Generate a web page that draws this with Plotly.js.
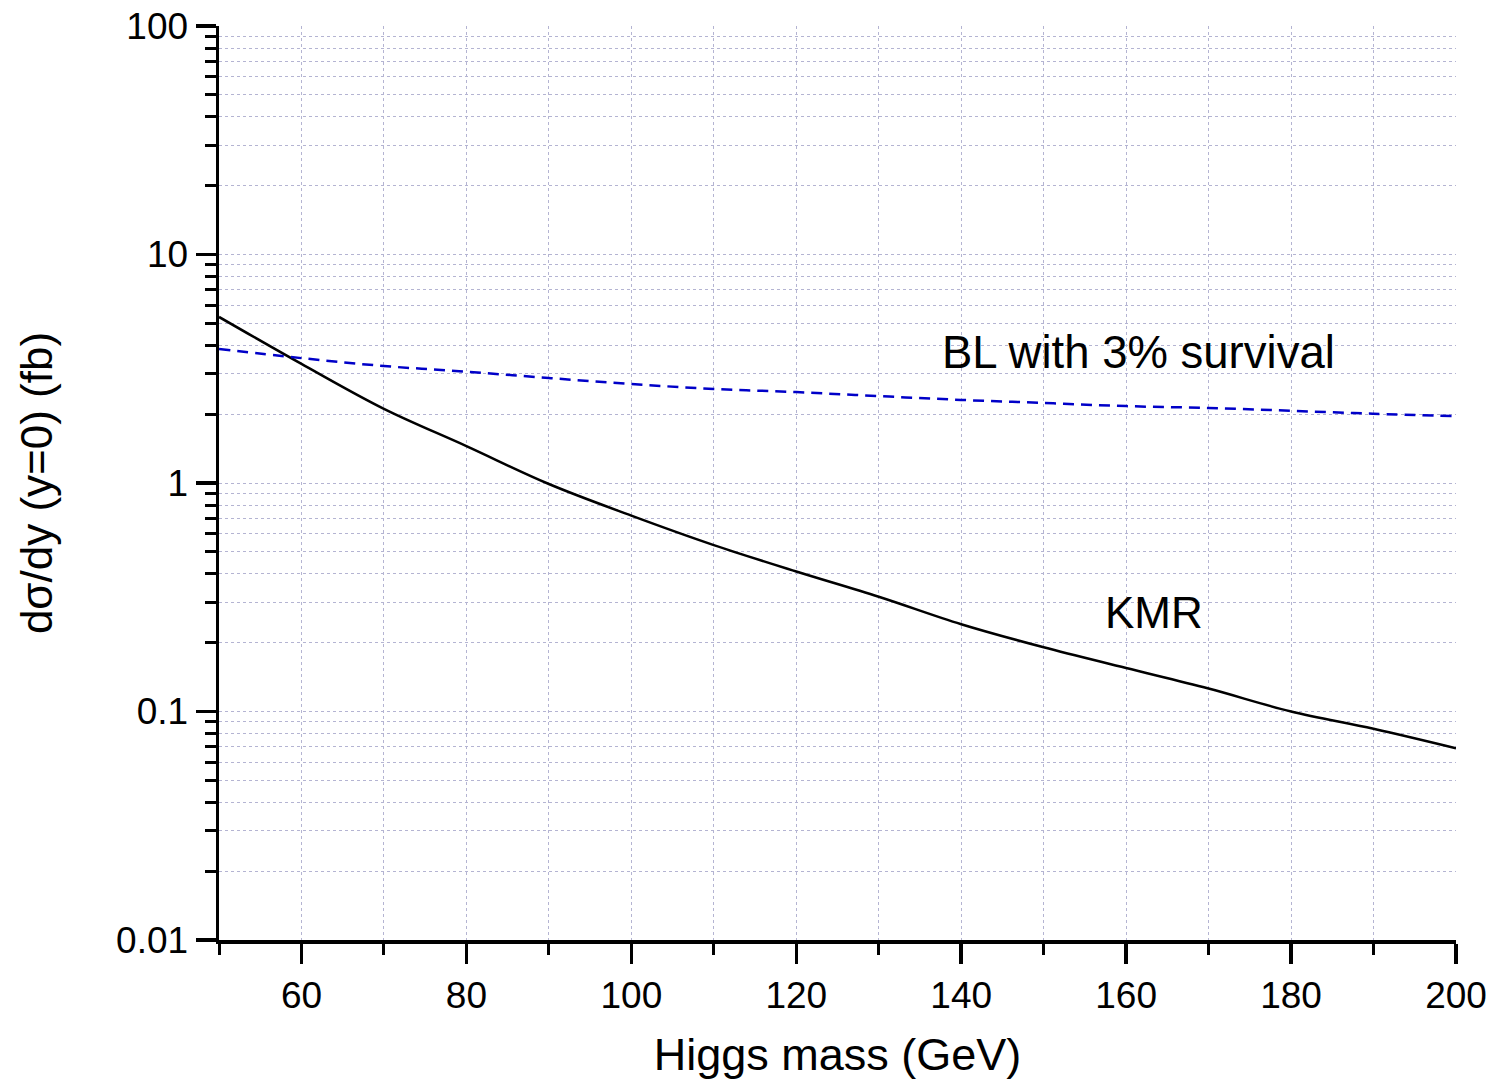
<!DOCTYPE html>
<html>
<head>
<meta charset="utf-8">
<script src="https://cdn.plot.ly/plotly-3.0.1.min.js"></script>
<style>html,body{margin:0;padding:0;background:#fff;}#chart{width:1492px;height:1086px;}</style>
</head>
<body>
<div id="chart"></div>
<script>
// Higgs mass (GeV)
const higgsMass = [50, 60, 70, 80, 90, 100, 110, 120, 130, 140, 150, 160, 170, 180, 190, 200];
// KMR dσ/dy (fb)
const kmr = [5.33, 3.32, 2.11, 1.45, 0.99, 0.72, 0.535, 0.41, 0.318, 0.241, 0.191, 0.155, 0.126, 0.100, 0.084, 0.069];
// BL with 3% survival dσ/dy (fb)
const bl = [3.86, 3.52, 3.25, 3.07, 2.88, 2.71, 2.58, 2.50, 2.40, 2.31, 2.24, 2.17, 2.13, 2.07, 2.01, 1.96];

const xMajorTicks = [60, 80, 100, 120, 140, 160, 180, 200];
const xMinorTicks = [50, 60, 70, 80, 90, 100, 110, 120, 130, 140, 150, 160, 170, 180, 190];
const yMajorTicks = [0.01, 0.1, 1, 10, 100];
const yMajorLabels = ["0.01", "0.1", "1", "10", "100"];
const yMinorTicks = [0.02,0.03,0.04,0.05,0.06,0.07,0.08,0.09,0.1,
                     0.2,0.3,0.4,0.5,0.6,0.7,0.8,0.9,1,
                     2,3,4,5,6,7,8,9,10,
                     20,30,40,50,60,70,80,90];

const FONT = "Liberation Sans, Arial, sans-serif";
const GRID = "#b4b4d2";

const traces = [
  {x: higgsMass, y: kmr, mode: "lines", name: "KMR", line: {color: "#000000", width: 2.5, shape: "spline", smoothing: 1}},
  {x: higgsMass, y: bl, mode: "lines", name: "BL with 3% survival", line: {color: "#0000c8", width: 2.5, dash: "11px,7px", shape: "spline", smoothing: 1}}
];

const layout = {
  width: 1492, height: 1086,
  margin: {l: 219, r: 36, t: 26, b: 146},
  paper_bgcolor: "#ffffff", plot_bgcolor: "#ffffff",
  showlegend: false,
  font: {family: FONT, color: "#000"},
  xaxis: {
    range: [50, 200],
    tickvals: xMajorTicks,
    ticks: "outside", ticklen: 20, tickwidth: 3.5, tickcolor: "#000",
    tickfont: {size: 37, family: FONT},
    showline: true, linewidth: 3.5, linecolor: "#000",
    showgrid: false, zeroline: false,
    minor: {tickvals: xMinorTicks, ticks: "outside", ticklen: 11, tickwidth: 3, tickcolor: "#000",
            showgrid: true, gridcolor: GRID, griddash: "dot", gridwidth: 1},
    title: {text: "Higgs mass (GeV)", font: {size: 45, family: FONT}, standoff: 24}
  },
  yaxis: {
    type: "log",
    range: [-2, 2],
    tickvals: yMajorTicks, ticktext: yMajorLabels,
    ticks: "outside", ticklen: 20, tickwidth: 3.5, tickcolor: "#000",
    tickfont: {size: 37, family: FONT},
    showline: true, linewidth: 3.5, linecolor: "#000",
    showgrid: false, zeroline: false,
    minor: {tickvals: yMinorTicks, ticks: "outside", ticklen: 11, tickwidth: 3, tickcolor: "#000",
            showgrid: true, gridcolor: GRID, griddash: "dot", gridwidth: 1},
    title: {text: "dσ/dy (y=0) (fb)", font: {size: 44, family: FONT}, standoff: 50}
  },
  annotations: [
    {x: 137.4, y: Math.log10(3.71), xref: "x", yref: "y", text: "BL with 3% survival", showarrow: false,
     xanchor: "left", yanchor: "middle", font: {size: 45.5, family: FONT, color: "#000"}},
    {x: 157.2, y: Math.log10(0.27), xref: "x", yref: "y", text: "KMR", showarrow: false,
     xanchor: "left", yanchor: "middle", font: {size: 44, family: FONT, color: "#000"}}
  ]
};

Plotly.newPlot("chart", traces, layout, {displayModeBar: false, staticPlot: true});
</script>
</body>
</html>
